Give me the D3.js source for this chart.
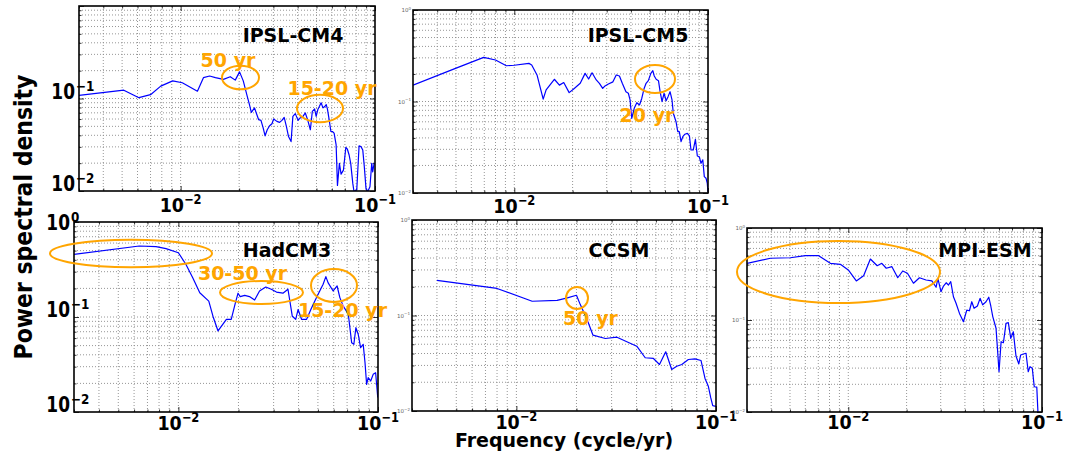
<!DOCTYPE html>
<html><head><meta charset="utf-8">
<script src="https://cdn.jsdelivr.net/npm/d3@7"></script>
<style>body{margin:0;background:#fff} svg{display:block;font-family:"DejaVu Sans",sans-serif}</style>
</head><body><svg id="c" width="1076" height="453"></svg>
<script>
// ---- data (frequency cycle/yr, power spectral density) ----
const ipslCM4 = [[0.003,0.108],[0.0051,0.123],[0.0061,0.102],[0.0070,0.110],[0.0079,0.136],[0.0091,0.155],[0.0102,0.148],[0.0122,0.120],[0.0131,0.168],[0.0141,0.175],[0.0151,0.168],[0.0166,0.161],[0.018,0.172],[0.0191,0.158],[0.0201,0.194],[0.021,0.155],[0.022,0.106],[0.0226,0.086],[0.0231,0.0709],[0.024,0.0792],[0.0245,0.0698],[0.0252,0.059],[0.0259,0.058],[0.0266,0.0479],[0.0272,0.0395],[0.0279,0.0459],[0.0287,0.0508],[0.0295,0.0534],[0.0301,0.0601],[0.0313,0.0566],[0.0323,0.0552],[0.0332,0.058],[0.0341,0.0625],[0.035,0.0499],[0.0359,0.0388],[0.037,0.0342],[0.0378,0.0641],[0.0389,0.0686],[0.0402,0.058],[0.0412,0.0616],[0.0426,0.0641],[0.0438,0.0698],[0.045,0.059],[0.0465,0.0459],[0.0476,0.0727],[0.0489,0.0773],[0.0498,0.0641],[0.0508,0.0759],[0.0518,0.0824],[0.0528,0.0898],[0.054,0.0792],[0.055,0.0812],[0.0561,0.086],[0.0569,0.0773],[0.0581,0.059],[0.0593,0.044],[0.0604,0.044],[0.0616,0.0423],[0.0631,0.0315],[0.0641,0.0115],[0.0656,0.0199],[0.0669,0.0152],[0.0688,0.0168],[0.0708,0.0297],[0.0721,0.0283],[0.0736,0.0245],[0.075,0.0199],[0.0769,0.012],[0.078,0.0098],[0.0806,0.0104],[0.0828,0.0307],[0.0847,0.0302],[0.0865,0.0278],[0.0881,0.0183],[0.0899,0.0106],[0.0918,0.0099],[0.0942,0.0111],[0.0962,0.0199],[0.0973,0.0161],[0.0991,0.0202]];
const ipslCM5 = [[0.003,0.151],[0.00486,0.226],[0.00695,0.304],[0.008,0.284],[0.0091,0.246],[0.01,0.249],[0.0119,0.261],[0.0123,0.251],[0.0131,0.195],[0.0141,0.106],[0.0146,0.134],[0.0161,0.175],[0.0171,0.151],[0.018,0.161],[0.0192,0.125],[0.0204,0.139],[0.0219,0.158],[0.0232,0.203],[0.0242,0.176],[0.0252,0.206],[0.0265,0.172],[0.0275,0.158],[0.0286,0.139],[0.0294,0.148],[0.0306,0.155],[0.0323,0.164],[0.0336,0.195],[0.0349,0.19],[0.0361,0.158],[0.0377,0.128],[0.0388,0.123],[0.0396,0.104],[0.0404,0.0655],[0.0416,0.0843],[0.0429,0.097],[0.0443,0.0916],[0.0455,0.108],[0.0468,0.139],[0.0479,0.158],[0.0492,0.169],[0.0507,0.203],[0.0519,0.217],[0.0528,0.19],[0.054,0.175],[0.0555,0.169],[0.0566,0.128],[0.0579,0.0995],[0.0593,0.123],[0.0608,0.102],[0.0622,0.113],[0.0637,0.128],[0.0652,0.104],[0.0662,0.0743],[0.0684,0.0601],[0.0698,0.0468],[0.0711,0.0468],[0.0726,0.0364],[0.0741,0.0412],[0.076,0.0439],[0.0782,0.0449],[0.0802,0.042],[0.0817,0.0295],[0.0839,0.0295],[0.0861,0.0386],[0.0881,0.0254],[0.0902,0.0249],[0.092,0.0211],[0.094,0.023],[0.0957,0.0151],[0.0977,0.0145],[0.0991,0.0128],[0.1,0.0103]];
const hadCM3 = [[0.003,0.457],[0.00637,0.559],[0.00773,0.55],[0.00867,0.524],[0.01,0.475],[0.0109,0.359],[0.0118,0.259],[0.0128,0.18],[0.0142,0.147],[0.0149,0.102],[0.0158,0.0713],[0.0174,0.0946],[0.0184,0.0946],[0.0193,0.141],[0.0199,0.178],[0.0204,0.164],[0.0215,0.169],[0.0227,0.164],[0.0241,0.151],[0.0255,0.188],[0.0274,0.207],[0.0292,0.196],[0.031,0.183],[0.0334,0.178],[0.0354,0.196],[0.0372,0.102],[0.0387,0.0946],[0.0398,0.12],[0.0414,0.0946],[0.0439,0.0946],[0.0465,0.125],[0.0492,0.16],[0.0531,0.221],[0.0548,0.266],[0.0562,0.23],[0.0596,0.188],[0.0624,0.212],[0.0644,0.16],[0.0669,0.131],[0.071,0.107],[0.0738,0.0536],[0.0757,0.0516],[0.0775,0.0772],[0.0796,0.0658],[0.0818,0.0475],[0.0843,0.0516],[0.0861,0.033],[0.0877,0.0195],[0.0893,0.023],[0.0919,0.0212],[0.0946,0.0249],[0.0973,0.0259],[0.0997,0.0142]];
const ccsm = [[0.004,0.233],[0.008,0.192],[0.012,0.141],[0.016,0.144],[0.018,0.153],[0.02,0.163],[0.0209,0.13],[0.0226,0.0908],[0.0242,0.0622],[0.0279,0.0574],[0.0319,0.0593],[0.0401,0.0477],[0.0442,0.0361],[0.0486,0.0355],[0.0521,0.0307],[0.056,0.0417],[0.06,0.0272],[0.0636,0.0294],[0.0674,0.0307],[0.0727,0.0346],[0.0785,0.0352],[0.0841,0.0338],[0.0881,0.0219],[0.0915,0.0182],[0.0941,0.0138],[0.0963,0.0114],[0.1,0.0112]];
const mpiESM = [[0.003,0.413],[0.00396,0.469],[0.00502,0.475],[0.006,0.5],[0.00703,0.5],[0.00808,0.413],[0.0091,0.403],[0.01,0.35],[0.011,0.266],[0.012,0.303],[0.013,0.46],[0.0141,0.389],[0.0149,0.413],[0.0157,0.365],[0.0168,0.38],[0.018,0.288],[0.0191,0.341],[0.0202,0.322],[0.0217,0.251],[0.0233,0.288],[0.0252,0.272],[0.027,0.266],[0.0284,0.227],[0.029,0.284],[0.0301,0.203],[0.031,0.234],[0.032,0.254],[0.0329,0.24],[0.0338,0.261],[0.0349,0.179],[0.036,0.152],[0.0375,0.118],[0.0393,0.0958],[0.0409,0.128],[0.0422,0.126],[0.0434,0.158],[0.0446,0.134],[0.0464,0.142],[0.0479,0.172],[0.0494,0.146],[0.0514,0.158],[0.0531,0.177],[0.0544,0.142],[0.0557,0.109],[0.0579,0.0813],[0.0588,0.0513],[0.06,0.0274],[0.0615,0.0581],[0.0632,0.0566],[0.0652,0.092],[0.067,0.0935],[0.069,0.0632],[0.0711,0.0746],[0.0734,0.0406],[0.0759,0.0333],[0.0776,0.0417],[0.0801,0.0427],[0.0827,0.0435],[0.0849,0.0274],[0.0867,0.0311],[0.0891,0.0299],[0.0912,0.0188],[0.094,0.0186],[0.095,0.0114],[0.0958,0.008]];

const modelNames = ["IPSL-CM4","IPSL-CM5","HadCM3","CCSM","MPI-ESM"];
const xDomain = [0.003, 0.1];
const yDomain = [0.01, 1];
const xMajorTicks = [0.01, 0.1];
const xMajorLabels = [["10","−2"],["10","−1"]];
const yMajorTicks = [1, 0.1, 0.01];
const yMajorLabels = [["10","0"],["10","−1"],["10","−2"]];
const annotationTexts = ["50 yr","15-20 yr","20 yr","30-50 yr","15-20 yr","50 yr"];

// ---- layout ----
const ORANGE = "#FFA500";
const panels = [
  {data: ipslCM4, box:[79,375,6,191], big:true, yLab:[1,2], title:[293,35], xlabDy:21},
  {data: ipslCM5, box:[413,708,10,193], big:false, yLab:[0,1,2], title:[638,35], xlabDy:20},
  {data: hadCM3, box:[74,378,222,412], big:true, yLab:[0,1,2], title:[287,250], xlabDy:18},
  {data: ccsm, box:[412,716,220,411], big:false, yLab:[0,1,2], title:[619,250], xlabDy:18},
  {data: mpiESM, box:[747,1042,228,412], big:false, yLab:[0,1,2], title:[985,250], xlabDy:17}
];
const annots = [
  {p:0, ell:[240.5,77.5,18.5,11.8], text:0, tpos:[228,60]},
  {p:0, ell:[320,108.5,23,13.7], text:1, tpos:[332,88]},
  {p:1, ell:[655,79,20,14], text:2, tpos:[647,115]},
  {p:2, ell:[131,253.5,81,13.7]},
  {p:2, ell:[261.5,292.5,41.5,11.5], text:3, tpos:[242.5,273]},
  {p:2, ell:[334,285.5,23,16.5], text:4, tpos:[342.5,310]},
  {p:3, ell:[577,298,11,11], text:5, tpos:[590.5,318]},
  {p:4, ell:[838.5,272,101.5,31]}
];

const svg = d3.select("#c");
const defs = svg.append("defs");

panels.forEach((p, i) => {
  const [x0,x1,y0,y1] = p.box;
  const x = d3.scaleLog().domain(xDomain).range([x0,x1]);
  const y = d3.scaleLog().domain(yDomain).range([y1,y0]);
  const g = svg.append("g");
  defs.append("clipPath").attr("id","clip"+i).append("rect")
    .attr("x",x0).attr("y",y0).attr("width",x1-x0).attr("height",y1-y0);

  // grid (major + minor), dotted
  const xt = x.ticks(), yt = y.ticks();
  g.append("g").selectAll("line").data(xt.filter(v=>v>xDomain[0]&&v<xDomain[1])).join("line")
    .attr("x1",d=>x(d)).attr("x2",d=>x(d)).attr("y1",y0).attr("y2",y1)
    .attr("stroke","#8a8a8a").attr("stroke-width",0.9).attr("stroke-dasharray","1,2");
  g.append("g").selectAll("line").data(yt.filter(v=>v>yDomain[0]&&v<yDomain[1])).join("line")
    .attr("x1",x0).attr("x2",x1).attr("y1",d=>y(d)).attr("y2",d=>y(d))
    .attr("stroke","#8a8a8a").attr("stroke-width",0.9).attr("stroke-dasharray","1,2");

  // tick marks (inward) on all 4 sides using d3 axes
  const minorX = xt.filter(v=>!xMajorTicks.includes(v));
  const minorY = yt.filter(v=>!yMajorTicks.includes(v));
  const mk = (axis, tr) => { const a = g.append("g").attr("transform",tr).call(axis);
    a.select(".domain").remove(); a.selectAll("text").remove();
    a.selectAll("line").attr("stroke","#000").attr("stroke-width",0.8); };
  mk(d3.axisBottom(x).tickValues(xMajorTicks).tickSize(-5), `translate(0,${y1})`);
  mk(d3.axisBottom(x).tickValues(minorX).tickSize(-2.5), `translate(0,${y1})`);
  mk(d3.axisTop(x).tickValues(xMajorTicks).tickSize(-5), `translate(0,${y0})`);
  mk(d3.axisTop(x).tickValues(minorX).tickSize(-2.5), `translate(0,${y0})`);
  mk(d3.axisLeft(y).tickValues(yMajorTicks).tickSize(-5), `translate(${x0},0)`);
  mk(d3.axisLeft(y).tickValues(minorY).tickSize(-2.5), `translate(${x0},0)`);
  mk(d3.axisRight(y).tickValues(yMajorTicks).tickSize(-5), `translate(${x1},0)`);
  mk(d3.axisRight(y).tickValues(minorY).tickSize(-2.5), `translate(${x1},0)`);

  // data line
  const line = d3.line().x(d=>x(d[0])).y(d=>y(d[1]));
  g.append("path").datum(p.data).attr("d",line).attr("fill","none")
    .attr("stroke","#0000ff").attr("stroke-width",1.2).attr("stroke-linejoin","round")
    .attr("clip-path",`url(#clip${i})`);

  // frame
  g.append("rect").attr("x",x0).attr("y",y0).attr("width",x1-x0).attr("height",y1-y0)
    .attr("fill","none").attr("stroke","#000").attr("stroke-width",1.6);

  // x tick labels (slightly tall, as in the reference)
  xMajorTicks.forEach((v,k) => {
    const t = g.append("text")
      .attr("transform",`translate(${x(v)},${y1+p.xlabDy}) scale(1,1.15)`)
      .attr("text-anchor","middle").attr("font-weight","bold").attr("fill","#000");
    t.append("tspan").attr("font-size",17.5).text(xMajorLabels[k][0]);
    t.append("tspan").attr("font-size",11.5).attr("dy",-7).text(xMajorLabels[k][1]);
  });

  // y tick labels
  p.yLab.forEach(k => {
    const v = yMajorTicks[k];
    if (p.big) {
      const by = y(v) + (k===0 ? 8 : 0);
      g.append("text").attr("transform",`translate(${x0-4},${by}) scale(1,1.2)`).attr("text-anchor","end")
        .attr("font-size",17).attr("font-weight","bold").text(yMajorLabels[k][0]);
      g.append("text").attr("transform",`translate(${x0-3},${by-8}) scale(1,1.15)`).attr("text-anchor","start")
        .attr("font-size",12).attr("font-weight","bold").text(yMajorLabels[k][1]);
    } else {
      const t = g.append("text").attr("x",x0-2).attr("y",y(v)+2).attr("text-anchor","end")
        .attr("fill","#666");
      t.append("tspan").attr("font-size",5.5).text(yMajorLabels[k][0]);
      t.append("tspan").attr("font-size",4).attr("dy",-2.5).text(yMajorLabels[k][1]);
    }
  });

  // title
  g.append("text").attr("x",p.title[0]).attr("y",p.title[1]+7).attr("text-anchor","middle")
    .attr("font-size",19).attr("font-weight","bold").attr("fill","#000").text(modelNames[i]);
});

// annotations
annots.forEach(a => {
  svg.append("ellipse").attr("cx",a.ell[0]).attr("cy",a.ell[1]).attr("rx",a.ell[2]).attr("ry",a.ell[3])
    .attr("fill","none").attr("stroke",ORANGE).attr("stroke-width",2);
  if (a.text !== undefined) {
    svg.append("text").attr("x",a.tpos[0]).attr("y",a.tpos[1]+7).attr("text-anchor","middle")
      .attr("font-size",19).attr("font-weight","bold").attr("fill",ORANGE).text(annotationTexts[a.text]);
  }
});

// axis titles
svg.append("text").attr("transform","translate(32,217) rotate(-90) scale(1,1.15)").attr("text-anchor","middle")
  .attr("font-size",22).attr("font-weight","bold").text("Power spectral density");
svg.append("text").attr("x",564).attr("y",447).attr("text-anchor","middle")
  .attr("font-size",19).attr("font-weight","bold").text("Frequency (cycle/yr)");
</script></body></html>
